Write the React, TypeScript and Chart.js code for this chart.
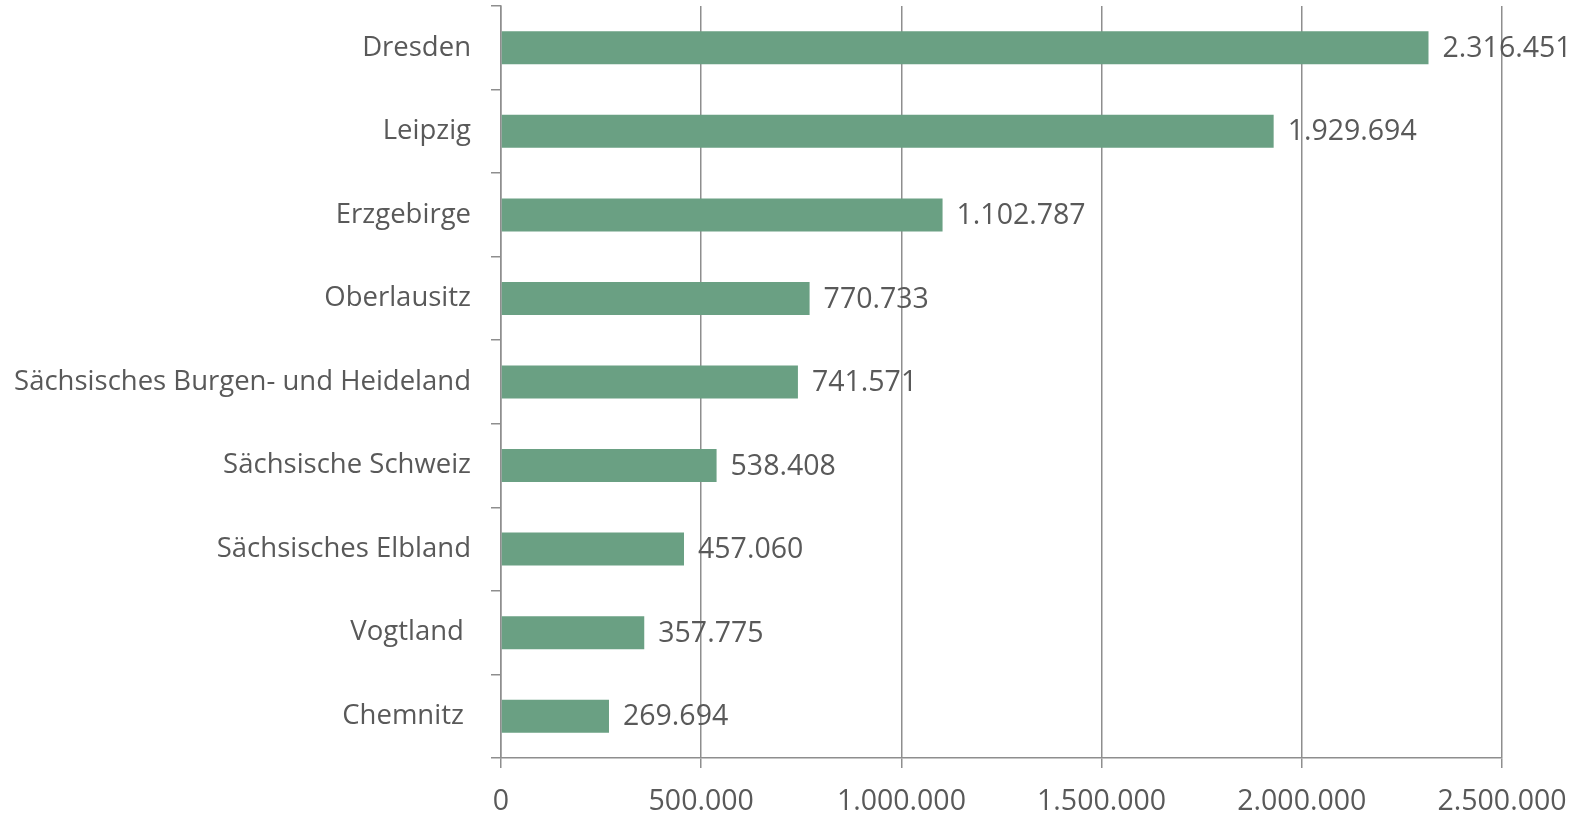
import React, { useEffect, useRef } from "react";
import { Chart, registerables } from "chart.js";

Chart.register(...registerables);

const categories = [
  "Dresden",
  "Leipzig",
  "Erzgebirge",
  "Oberlausitz",
  "Sächsisches Burgen- und Heideland",
  "Sächsische Schweiz",
  "Sächsisches Elbland",
  "Vogtland ",
  "Chemnitz ",
];
const values = [2316451, 1929694, 1102787, 770733, 741571, 538408, 457060, 357775, 269694];
const xTickValues = [0, 500000, 1000000, 1500000, 2000000, 2500000];

const FONT = "'Open Sans', sans-serif";
const TEXT = "#595959";
const GRID = "#8e8e8e";
const BAR = "#6aa083";

function fmt(n: number): string {
  const s = Math.round(n).toString();
  return s.replace(/\B(?=(\d{3})+(?!\d))/g, ".");
}

const labelPlugin = {
  id: "barLabels",
  afterDatasetsDraw(chart: any) {
    const ctx = chart.ctx;
    const meta = chart.getDatasetMeta(0);
    ctx.save();
    ctx.font = `28.5px ${FONT}`;
    ctx.fillStyle = TEXT;
    ctx.textAlign = "left";
    ctx.textBaseline = "middle";
    meta.data.forEach((el: any, i: number) => {
      ctx.fillText(fmt(values[i]), el.x + 14, el.y + 1);
    });
    ctx.restore();
  },
};

export default function App() {
  const ref = useRef<HTMLCanvasElement>(null);
  useEffect(() => {
    document.body.style.margin = "0";
    const chart = new Chart(ref.current!, {
      type: "bar",
      data: {
        labels: categories,
        datasets: [
          {
            data: values,
            backgroundColor: BAR,
            borderWidth: 0,
            barPercentage: 0.79,
            categoryPercentage: 0.5,
          },
        ],
      },
      options: {
        indexAxis: "y",
        animation: false,
        responsive: false,
        layout: { padding: { top: 6, right: 82, left: 0, bottom: 0 } },
        plugins: { legend: { display: false }, tooltip: { enabled: false } },
        scales: {
          x: {
            min: 0,
            max: 2500000,
            afterBuildTicks: (scale: any) => {
              scale.ticks = xTickValues.map((v) => ({ value: v }));
            },
            afterFit: (scale: any) => {
              scale.height = 55;
              scale.paddingLeft = 0;
              scale.paddingRight = 0;
            },
            grid: {
              color: GRID,
              lineWidth: 1.5,
              tickLength: 10,
              drawTicks: true,
            },
            border: { display: true, color: GRID, width: 1.5 },
            ticks: {
              color: TEXT,
              font: { family: FONT, size: 28.5 },
              padding: 17,
              maxRotation: 0,
              callback: (v: any) => fmt(Number(v)),
            },
          },
          y: {
            afterFit: (scale: any) => {
              scale.width = 501;
              scale.paddingTop = 0;
              scale.paddingBottom = 0;
            },
            grid: {
              color: GRID,
              lineWidth: 1.5,
              drawOnChartArea: false,
              drawTicks: true,
              tickLength: 10,
              offset: true,
            },
            border: { display: true, color: GRID, width: 1.5 },
            ticks: {
              color: TEXT,
              font: { family: FONT, size: 27.5 },
              padding: 20,
            },
          },
        },
      },
      plugins: [labelPlugin],
    });
    return () => chart.destroy();
  }, []);
  return <canvas ref={ref} width={1584} height={813} style={{ display: "block" }} />;
}
